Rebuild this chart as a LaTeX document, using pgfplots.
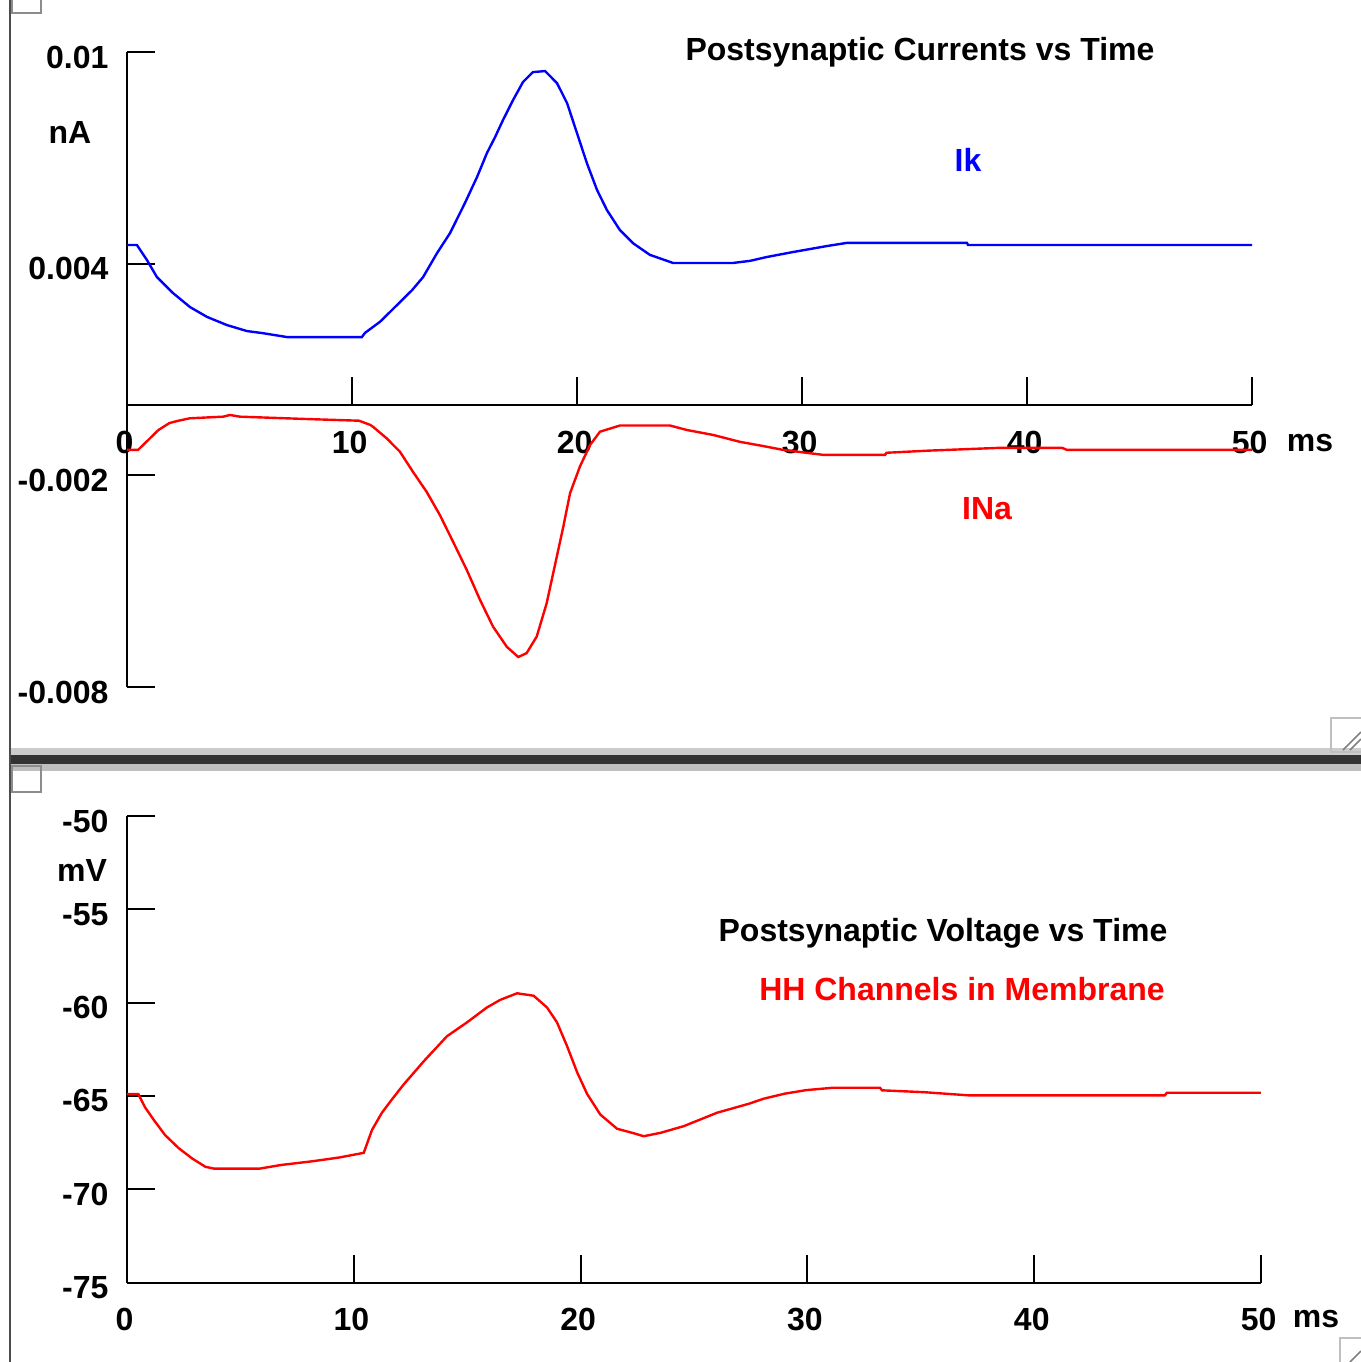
\documentclass[border=0pt]{standalone}
\usepackage{fontspec}
\setmainfont{Liberation Sans}
\usepackage{pgfplots}
\pgfplotsset{compat=1.18}
\definecolor{ikblue}{RGB}{0,0,255}
\definecolor{nared}{RGB}{255,0,0}
\newcommand{\pf}{\bfseries\fontsize{8}{9.6}\selectfont}
\pgfplotsset{
  hhaxis/.style={
    scale only axis, clip=false,
    xmin=0, xmax=50,
    axis line style={-, line width=0.5pt, black},
    x axis line style={-}, y axis line style={-},
    tick align=inside, major tick length=7pt,
    tick style={black, line width=0.5pt},
    scaled y ticks=false, scaled x ticks=false,
    xtick={0,10,20,30,40,50}, xticklabels={0,10,20,30,40,50},
    ticklabel style={font=\pf},
    xticklabel style={yshift=-3pt, xshift=-0.6pt},
    yticklabel style={xshift=-1.1pt, yshift=-1.25pt},
  }
}
\begin{document}
\begin{tikzpicture}
\path[use as bounding box] (0,0) rectangle (340.25pt,-340.5pt);
% applet frame decorations
\begin{scope}[x=0.25pt,y=-0.25pt]
\fill[black!20] (10,748) rectangle (1361,755);
\fill[black!80] (10,755) rectangle (1361,764);
\fill[black!25] (10,764) rectangle (1361,771);
\draw[black!70, line width=0.5pt] (10,0) -- (10,1362);
\draw[black!45, line width=0.4pt] (12,-6) rectangle (41,13);
\draw[black!45, line width=0.4pt] (12,766) rectangle (41,792);
\draw[black!25, line width=0.4pt] (1331,718) rectangle (1368,752);
\draw[black!50, line width=0.4pt] (1343,750) -- (1361,732) (1350,750) -- (1361,739);
\draw[black!25, line width=0.4pt] (1340,1338) rectangle (1368,1368);
\draw[black!50, line width=0.4pt] (1350,1362) -- (1361,1351);
\end{scope}

% ---------- currents ----------
\begin{axis}[
  axis x line=middle, axis y line=left,
  hhaxis,
  at={(31.75pt,-171.75pt)}, anchor=south west,
  width=281.25pt, height=158.75pt,
  ymin=-0.008, ymax=0.01,
  hide obscured x ticks=false,
  ytick={-0.008,-0.002,0.004,0.01},
  yticklabels={-0.008,-0.002,0.004,0.01},
]
\addplot[ikblue, line width=0.6pt] coordinates {
(0,0.00453) (0.44,0.00453) (0.89,0.00410) (1.33,0.00362) (2.04,0.00317)
(2.80,0.00277) (3.56,0.00249) (4.44,0.00226) (5.33,0.00209) (6.04,0.00203)
(7.11,0.00192) (10.44,0.00192) (10.58,0.00204) (11.24,0.00235) (11.91,0.00277)
(12.67,0.00325) (13.16,0.00362) (13.78,0.00430) (14.36,0.00487) (15.02,0.00572)
(15.56,0.00646) (16.00,0.00714) (16.36,0.00759) (16.71,0.00807) (17.16,0.00864)
(17.60,0.00915) (18.04,0.00943) (18.58,0.00946) (19.11,0.00912) (19.56,0.00855)
(20.00,0.00770) (20.44,0.00685) (20.89,0.00609) (21.33,0.00552) (21.91,0.00495)
(22.49,0.00458) (23.24,0.00425) (24.27,0.00402) (26.93,0.00402) (27.69,0.00408)
(28.44,0.00419) (29.60,0.00433) (31.11,0.00450) (32.00,0.00459) (37.33,0.00459)
(37.38,0.00453) (50,0.00453)
};
\addplot[nared, line width=0.6pt] coordinates {
(0,-0.00128) (0.49,-0.00128) (1.40,-0.000714) (1.89,-0.000516) (2.29,-0.000451)
(2.79,-0.000383) (4.27,-0.000337) (4.58,-0.000289) (5.02,-0.000337) (7.96,-0.000403)
(10.31,-0.000451) (10.82,-0.000573) (10.93,-0.000621) (11.54,-0.00095) (12.13,-0.00133)
(12.71,-0.0019) (13.32,-0.00247) (13.91,-0.00313) (14.49,-0.00388) (15.10,-0.00468)
(15.69,-0.00553) (16.27,-0.00629) (16.88,-0.00686) (17.39,-0.00715) (17.76,-0.00704)
(18.21,-0.00657) (18.65,-0.00563) (19.10,-0.00431) (19.39,-0.00346) (19.69,-0.00251)
(20.13,-0.00175) (20.58,-0.00114) (21.02,-0.000763) (21.91,-0.000587) (24.13,-0.000587)
(24.88,-0.000714) (26.06,-0.000856) (27.24,-0.00105) (28.28,-0.00117) (29.17,-0.00128)
(30.95,-0.00142) (33.69,-0.00142) (33.76,-0.00136) (35.61,-0.0013) (38.80,-0.00122)
(41.56,-0.00122) (41.78,-0.00128) (50,-0.00128)
};
\end{axis}

% ---------- voltage ----------
\begin{axis}[
  axis x line=bottom, axis y line=left,
  hhaxis,
  at={(31.75pt,-320.625pt)}, anchor=south west,
  width=283.5pt, height=116.625pt,
  ymin=-75, ymax=-50,
  ytick={-75,-70,-65,-60,-55,-50},
  yticklabels={-75,-70,-65,-60,-55,-50},
]
\addplot[nared, line width=0.6pt] coordinates {
(0,-64.9) (0.5,-64.9) (0.79,-65.6) (1.19,-66.3) (1.68,-67.1) (2.28,-67.8)
(2.87,-68.35) (3.46,-68.8) (3.85,-68.9) (5.83,-68.9) (6.8,-68.7) (8.19,-68.5)
(9.36,-68.3) (10.44,-68.05) (10.8,-66.83) (11.24,-65.9) (11.61,-65.3) (12.19,-64.4)
(13.08,-63.15) (14.11,-61.8) (14.99,-61.06) (15.87,-60.26) (16.46,-59.85) (17.2,-59.5)
(17.93,-59.63) (18.52,-60.26) (18.96,-61.06) (19.4,-62.32) (19.85,-63.74) (20.29,-64.9)
(20.87,-66.0) (21.61,-66.76) (22.34,-67.0) (22.78,-67.16) (23.52,-66.98) (24.55,-66.62)
(26.02,-65.9) (27.42,-65.42) (28.07,-65.15) (29.0,-64.88) (29.94,-64.69) (31.15,-64.56)
(33.2,-64.56) (33.29,-64.7) (35.15,-64.8) (37.11,-64.97) (45.76,-64.97) (45.85,-64.83)
(50,-64.83)
};
\end{axis}

% ---------- texts ----------
\begin{scope}[x=0.25pt,y=-0.25pt, every node/.style={font=\pf, inner sep=0pt}]
\node[anchor=base] at (920,60) {Postsynaptic Currents vs Time};
\node[anchor=base, text=ikblue] at (968,171) {Ik};
\node[anchor=base, text=nared] at (987,519) {INa};
\node[anchor=base] at (70,143) {nA};
\node[anchor=base] at (1310,451) {ms};
\node[anchor=base] at (943,941) {Postsynaptic Voltage vs Time};
\node[anchor=base, text=nared] at (962,1000) {HH Channels in Membrane};
\node[anchor=base] at (82,881) {mV};
\node[anchor=base] at (1316,1327) {ms};
\end{scope}
\end{tikzpicture}
\end{document}
